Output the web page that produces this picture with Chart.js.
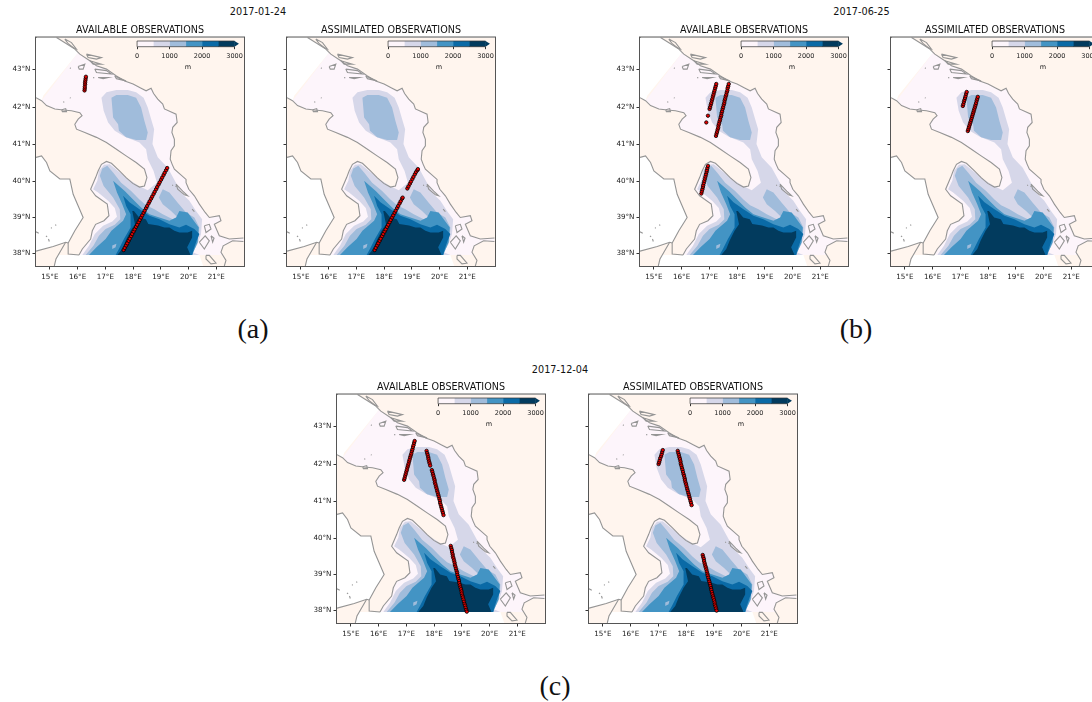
<!DOCTYPE html>
<html>
<head>
<meta charset="utf-8">
<title>Observations 2017</title>
<script src="https://cdn.jsdelivr.net/npm/chart.js@4"></script>
<style>
  html, body { margin: 0; padding: 0; background: #fff; overflow: hidden; width: 1092px; height: 702px; }
  canvas { position: absolute; }
  .txt { position: absolute; color: #111; white-space: nowrap; transform: translate(-50%, -50%); }
  .date { font: 9.7px "DejaVu Sans"; }
  .panel-label { font: 28px "Liberation Serif"; }
</style>
</head>
<body>
<script>
// ================= DADOS: EIXOS =================
const lonTicks = [15, 16, 17, 18, 19, 20, 21];
const latTicks = [38, 39, 40, 41, 42, 43];
const lonRange = [14.5, 22];
const latRange = [37.64, 43.82];
const depthLevels = [500, 500, 500, 500, 500, 500];
const depthTicks = [0, 1000, 2000, 3000];
const depthTip = 3135;
const depthColors = ["#fdf5fb", "#d6d7e9", "#a0bcdb", "#4394c4", "#0a6aa6", "#023b5e"];

// ================= DADOS: COSTA (lon, lat) =================
const coastNorthEast = [[15.24,43.82],[15.60,43.66],[15.90,43.52],[16.08,43.39],[16.44,43.22],[16.68,43.09],[17.04,43.00],[17.40,42.82],[17.70,42.69],[18.00,42.61],[18.29,42.50],[18.47,42.43],[18.65,42.50],[18.74,42.36],[18.89,42.21],[19.07,42.08],[19.13,41.95],[19.55,41.81],[19.59,41.59],[19.43,41.46],[19.40,41.32],[19.49,41.14],[19.49,40.96],[19.37,40.83],[19.34,40.60],[19.41,40.46],[19.49,40.33],[19.91,40.05],[19.91,39.96],[20.01,39.78],[20.21,39.60],[20.39,39.37],[20.60,39.14],[20.75,39.00],[21.11,39.05],[21.17,38.91],[20.93,38.81],[21.11,38.49],[21.47,38.40],[21.98,38.43]];
const coastPeloponnese = [[21.98,38.33],[21.59,38.35],[21.25,38.21],[21.17,38.03],[21.35,37.80],[21.29,37.64]];
const coastItaly = [[14.50,42.25],[14.70,42.17],[14.88,42.04],[15.18,41.95],[15.48,41.92],[15.78,41.90],[16.08,41.85],[16.16,41.77],[16.02,41.68],[15.90,41.54],[15.96,41.41],[16.26,41.32],[16.68,41.19],[17.04,41.05],[17.40,40.87],[17.75,40.69],[18.11,40.51],[18.41,40.33],[18.50,40.10],[18.41,39.87],[18.23,39.84],[17.99,39.94],[17.75,40.10],[17.51,40.28],[17.22,40.49],[17.04,40.54],[16.86,40.46],[16.74,40.28],[16.65,40.10],[16.47,39.78],[16.65,39.60],[17.07,39.37],[17.13,39.05],[16.95,38.91],[16.65,38.81],[16.53,38.63],[16.47,38.40],[16.17,38.12],[16.05,37.95]];
const coastToe = [[16.05,37.95],[15.66,37.98],[15.66,38.29]];
const coastTyrrhenian = [[15.66,38.29],[15.90,38.63],[16.20,39.00],[15.84,39.64],[15.72,40.06],[15.36,40.06],[15.00,40.28],[14.88,40.51],[14.70,40.69],[14.50,40.65]];
const coastSicily = [[14.50,38.06],[15.12,38.19],[15.57,38.31],[15.66,38.29]];
const coastSicilyEast = [[15.57,38.31],[15.22,37.84],[15.16,37.64]];

const islands = [
  [[15.54,43.78],[15.78,43.69],[15.96,43.52],[15.86,43.55],[15.66,43.66]],
  [[16.32,43.39],[16.86,43.30],[16.68,43.26],[16.38,43.30]],
  [[16.44,43.22],[16.86,43.13],[16.56,43.13]],
  [[16.02,43.07],[16.26,43.13],[16.20,43.00],[16.06,43.00]],
  [[16.62,43.00],[17.04,42.96],[17.22,42.87],[16.68,42.91]],
  [[16.74,42.78],[17.10,42.78],[16.92,42.75]],
  [[17.34,42.82],[17.75,42.69],[17.40,42.75]],
  [[15.72,43.03],[15.76,43.02]],
  [[16.56,42.78],[16.60,42.77]],
  [[15.48,42.14],[15.52,42.13]],
  [[15.72,42.25],[15.75,42.24]],
  [[15.43,41.93],[15.57,41.96],[15.60,41.88],[15.45,41.88]],
  [[19.55,39.92],[19.79,39.73],[19.97,39.60],[19.85,39.63],[19.61,39.78]],
  [[19.41,39.90],[19.44,39.88]],
  [[19.53,39.87],[19.56,39.85]],
  [[20.13,39.23],[20.21,39.16]],
  [[20.57,38.77],[20.75,38.81],[20.81,38.68],[20.63,38.58]],
  [[20.39,38.31],[20.60,38.49],[20.75,38.35],[20.57,38.12]],
  [[20.81,38.49],[20.87,38.31],[20.92,38.42]],
  [[20.63,37.94],[20.75,37.94],[20.99,37.72],[20.81,37.70],[20.63,37.84]],
  [[15.19,38.80],[15.23,38.78]],
  [[14.86,38.49],[14.90,38.46]],
  [[14.95,38.40],[14.98,38.33]],
  [[14.50,38.60],[14.60,38.56]],
  [[15.04,38.72],[15.07,38.70]]
];

// ================= DADOS: ÁREAS SEM MODELO =================
const whiteNorthWest = [[14.5,43.82],[15.24,43.82],[15.60,43.66],[15.90,43.52],[16.02,43.43],[14.76,42.30],[14.70,42.17],[14.5,42.25]];
const whiteSouth = [[15.30,37.95],[20.39,37.95],[20.53,37.64],[15.16,37.64]];
const seaLimitNorth = [[14.70,42.17],[16.02,43.43]];
const seaLimitSouth = [[21.25,37.95],[16.05,37.95]];

// ================= DADOS: BATIMETRIA (lon, lat) =================
const depth500 = [[16.86,42.25],[17.04,42.39],[17.40,42.45],[17.81,42.45],[18.11,42.39],[18.38,42.25],[18.53,41.99],[18.65,41.68],[18.76,41.41],[18.70,41.01],[18.89,40.65],[19.25,40.37],[19.61,39.87],[19.79,39.64],[20.03,39.46],[20.27,39.18],[20.49,38.95],[20.45,38.54],[20.33,38.26],[20.15,38.03],[20.39,37.95],[16.17,37.95],[16.41,38.21],[16.62,38.54],[16.92,38.77],[17.25,38.89],[17.42,39.02],[17.34,39.26],[17.10,39.46],[16.74,39.69],[16.56,39.78],[16.71,40.01],[16.77,40.28],[16.95,40.45],[17.16,40.46],[17.46,40.28],[17.85,40.05],[18.21,39.87],[18.53,39.75],[18.86,39.96],[18.74,40.28],[18.53,40.60],[18.47,40.87],[18.23,41.05],[17.70,41.21],[17.34,41.37],[17.10,41.59],[16.94,41.90]];
const depth1000North = [[17.22,42.25],[17.40,42.32],[17.81,42.32],[18.11,42.25],[18.29,41.99],[18.41,41.63],[18.53,41.32],[18.47,41.12],[18.11,41.12],[17.75,41.19],[17.49,41.37],[17.46,41.54],[17.28,41.72],[17.25,41.99]];
const depth1000South = [[16.29,37.95],[16.57,38.21],[16.77,38.49],[17.01,38.68],[17.34,38.80],[17.54,38.95],[17.52,39.23],[17.28,39.55],[16.94,39.87],[16.80,40.15],[16.89,40.35],[17.07,40.42],[17.28,40.24],[17.57,39.96],[17.93,39.73],[18.23,39.50],[18.47,39.34],[18.77,39.23],[19.07,39.09],[19.43,38.95],[19.61,39.00],[19.37,39.18],[19.07,39.37],[18.93,39.55],[19.07,39.78],[19.31,39.69],[19.61,39.41],[19.91,39.14],[20.21,39.00],[20.39,38.72],[20.37,38.49],[20.15,38.07],[20.15,37.95]];
const depth1500 = [[16.41,37.95],[16.68,38.17],[17.01,38.40],[17.22,38.63],[17.64,38.91],[17.75,39.09],[17.61,39.37],[17.42,39.69],[17.28,40.01],[17.70,39.73],[18.00,39.50],[18.29,39.28],[18.59,39.09],[18.95,39.00],[19.31,38.91],[19.55,39.00],[19.67,39.18],[19.97,39.14],[20.15,38.95],[20.37,38.72],[20.33,38.31],[20.13,37.95]];
const depth1000Spot = [[17.25,38.22],[17.40,38.27],[17.37,38.17],[17.25,38.12]];
const depth2000 = [[17.64,39.60],[17.87,39.42],[18.23,39.23],[18.59,39.05],[18.95,38.95],[19.31,38.81],[19.67,38.72],[19.91,38.80],[20.21,38.68],[20.39,38.54],[20.29,38.35],[20.19,38.12],[20.13,37.95],[17.37,37.95],[17.49,38.12],[17.67,38.40],[17.91,38.72],[17.91,39.09],[17.75,39.32]];
const depth2500 = [[17.97,39.18],[18.03,39.18],[18.22,39.00],[18.46,38.95],[18.55,38.82],[18.90,38.78],[19.13,38.72],[19.31,38.72],[19.49,38.63],[19.67,38.58],[19.97,38.58],[20.13,38.63],[20.13,38.44],[19.95,38.17],[20.07,37.95],[17.43,37.95],[17.61,38.12],[17.73,38.35],[17.91,38.63],[18.07,38.81]];

// ================= DADOS: OBSERVAÇÕES (lon, lat) =================
const availableJan = [[17.66,38.09],[17.70,38.15],[17.75,38.22],[17.79,38.28],[17.84,38.35],[17.88,38.41],[17.93,38.48],[17.97,38.54],[18.02,38.61],[18.06,38.67],[18.11,38.74],[18.15,38.80],[18.20,38.87],[18.24,38.93],[18.29,39.00],[18.33,39.06],[18.38,39.13],[18.42,39.19],[18.47,39.26],[18.51,39.32],[18.56,39.39],[18.60,39.45],[18.65,39.52],[18.69,39.58],[18.74,39.65],[18.78,39.71],[18.83,39.78],[18.87,39.84],[18.92,39.91],[18.96,39.97],[19.01,40.04],[19.05,40.10],[19.10,40.17],[19.14,40.23],[19.19,40.30],[19.23,40.36],
  [16.25,42.44],[16.26,42.49],[16.26,42.54],[16.27,42.60],[16.27,42.65],[16.28,42.70],[16.29,42.75],[16.30,42.80]];
const assimilatedJan = [[17.66,38.09],[17.70,38.15],[17.75,38.22],[17.79,38.28],[17.84,38.35],[17.88,38.41],[17.93,38.48],[17.97,38.54],[18.02,38.61],[18.06,38.67],[18.11,38.74],[18.15,38.80],[18.20,38.87],[18.24,38.93],[18.29,39.00],[18.33,39.06],[18.38,39.13],[18.42,39.19],[18.47,39.26],[18.51,39.32],[18.56,39.39],[18.60,39.45],[18.65,39.52],[18.67,39.55],
  [18.84,39.80],[18.88,39.86],[18.93,39.93],[18.97,39.99],[19.02,40.06],[19.06,40.12],[19.11,40.19],[19.15,40.25],[19.20,40.30],[19.22,40.33]];
const availableJun = [[17.01,41.95],[17.03,42.00],[17.05,42.06],[17.07,42.11],[17.09,42.17],[17.11,42.22],[17.13,42.28],[17.15,42.33],[17.17,42.39],[17.19,42.44],[17.21,42.50],[17.23,42.55],[17.25,42.61],
  [16.95,41.77],[16.89,41.59],
  [17.24,41.23],[17.26,41.29],[17.28,41.34],[17.30,41.40],[17.32,41.45],[17.33,41.51],[17.35,41.56],[17.37,41.62],[17.39,41.67],[17.41,41.73],[17.43,41.78],[17.44,41.84],[17.46,41.89],[17.48,41.95],[17.50,42.00],[17.52,42.06],[17.54,42.11],[17.55,42.17],[17.57,42.22],[17.59,42.28],[17.61,42.33],[17.63,42.39],[17.65,42.44],[17.66,42.50],[17.68,42.55],[17.70,42.61],
  [16.71,39.66],[16.73,39.72],[16.75,39.78],[16.77,39.84],[16.78,39.89],[16.80,39.95],[16.82,40.01],[16.84,40.07],[16.86,40.13],[16.88,40.19],[16.90,40.25],[16.91,40.30],[16.93,40.36],[16.95,40.42]];
const assimilatedJun = [[17.09,42.03],[17.11,42.08],[17.13,42.14],[17.15,42.19],[17.17,42.24],[17.19,42.29],[17.21,42.35],[17.23,42.40],
  [17.27,41.36],[17.29,41.41],[17.31,41.46],[17.33,41.51],[17.35,41.56],[17.37,41.61],[17.39,41.66],[17.41,41.71],[17.43,41.76],[17.45,41.81],[17.47,41.86],[17.49,41.91],[17.51,41.96],[17.53,42.01],[17.55,42.06],[17.57,42.11],[17.59,42.17],[17.61,42.22],[17.63,42.27]];
const availableDec = [[16.92,41.58],[16.94,41.63],[16.96,41.69],[16.98,41.74],[17.00,41.80],[17.02,41.85],[17.04,41.91],[17.06,41.96],[17.08,42.01],[17.10,42.07],[17.12,42.12],[17.14,42.18],[17.16,42.23],[17.18,42.28],[17.20,42.34],[17.22,42.39],[17.24,42.45],[17.26,42.50],[17.28,42.56],[17.30,42.61],
  [17.73,42.35],[17.75,42.29],[17.77,42.24],[17.79,42.18],[17.80,42.13],[17.82,42.07],[17.84,42.02],[17.86,41.96],
  [17.92,41.84],[17.94,41.79],[17.96,41.73],[17.98,41.68],[18.00,41.62],[18.02,41.57],[18.03,41.51],[18.05,41.46],[18.07,41.40],[18.09,41.35],[18.11,41.29],[18.13,41.24],[18.15,41.18],[18.17,41.13],[18.19,41.07],[18.21,41.02],[18.22,40.96],[18.24,40.91],[18.26,40.85],[18.28,40.80],[18.30,40.74],[18.32,40.69],[18.34,40.63],
  [18.60,39.79],[18.62,39.73],[18.64,39.68],[18.65,39.62],[18.67,39.56],[18.68,39.50],[18.70,39.45],[18.72,39.39],[18.74,39.33],[18.75,39.27],[18.77,39.22],[18.79,39.16],[18.81,39.10],[18.83,39.05],[18.84,38.99],[18.86,38.93],[18.88,38.87],[18.90,38.82],[18.91,38.76],[18.93,38.70],[18.95,38.64],[18.97,38.59],[18.99,38.53],[19.00,38.47],[19.02,38.41],[19.04,38.36],[19.06,38.30],[19.08,38.24],[19.10,38.18],[19.12,38.13],[19.14,38.07],[19.16,38.01],[19.18,37.96]];
const assimilatedDec = [[17.01,42.00],[17.03,42.05],[17.05,42.10],[17.07,42.16],[17.10,42.21],[17.12,42.26],[17.14,42.32],[17.16,42.37],
  [17.70,42.35],[17.72,42.29],[17.74,42.24],[17.76,42.18],[17.78,42.13],[17.80,42.07],[17.81,42.01],[17.83,41.96],[17.85,41.90],[17.87,41.85],[17.89,41.79],[17.91,41.73],[17.93,41.68],[17.95,41.62],[17.96,41.57],[17.98,41.51],[18.00,41.46],[18.02,41.40],[18.04,41.34],[18.06,41.29],[18.08,41.23],[18.10,41.18],[18.12,41.12],[18.14,41.07],[18.16,41.01],[18.18,40.96],[18.20,40.90],
  [18.60,39.54],[18.62,39.48],[18.64,39.43],[18.65,39.37],[18.67,39.31],[18.69,39.25],[18.71,39.20],[18.73,39.14],[18.75,39.08],[18.77,39.02],[18.78,38.97],[18.80,38.91],[18.82,38.85],[18.84,38.80],[18.86,38.74],[18.88,38.68],[18.90,38.62],[18.91,38.57],[18.93,38.51],[18.95,38.45],[18.97,38.39],[18.99,38.34],[19.01,38.28],[19.03,38.22],[19.04,38.16],[19.06,38.11],[19.08,38.05],[19.10,37.99]];

// ================= LAYOUT =================
const titleAvailable = "AVAILABLE OBSERVATIONS";
const titleAssimilated = "ASSIMILATED OBSERVATIONS";
const paineis = [
  { left: 36, top: 38, title: titleAvailable, obs: availableJan, yLabels: true },
  { left: 287, top: 38, title: titleAssimilated, obs: assimilatedJan, yLabels: false },
  { left: 640, top: 38, title: titleAvailable, obs: availableJun, yLabels: true },
  { left: 891, top: 38, title: titleAssimilated, obs: assimilatedJun, yLabels: false },
  { left: 337, top: 395, title: titleAvailable, obs: availableDec, yLabels: true },
  { left: 589, top: 395, title: titleAssimilated, obs: assimilatedDec, yLabels: false }
];
const textos = [
  { cls: "date", text: "2017-01-24", x: 258, y: 11 },
  { cls: "date", text: "2017-06-25", x: 861.5, y: 11 },
  { cls: "date", text: "2017-12-04", x: 560, y: 369 },
  { cls: "panel-label", text: "(a)", x: 253, y: 329 },
  { cls: "panel-label", text: "(b)", x: 856, y: 329 },
  { cls: "panel-label", text: "(c)", x: 555, y: 686 }
];

textos.forEach(t => {
  const d = document.createElement("div");
  d.className = "txt " + t.cls;
  d.textContent = t.text;
  d.style.left = t.x + "px";
  d.style.top = t.y + "px";
  document.body.appendChild(d);
});

// ================= FUNÇÕES =================
// projeção de Mercator, em graus, para o eixo y
function merc(lat) {
  const r = lat * Math.PI / 180;
  return Math.log(Math.tan(Math.PI / 4 + r / 2)) * 180 / Math.PI;
}

function toXY(list) {
  return list.map(p => ({ x: p[0], y: merc(p[1]) }));
}

function criarCanvas(left, top, w, h) {
  const c = document.createElement("canvas");
  c.width = w;
  c.height = h;
  c.style.left = left + "px";
  c.style.top = top + "px";
  c.style.width = w + "px";
  c.style.height = h + "px";
  document.body.appendChild(c);
  return c;
}

// preenche os polígonos usando os pontos já calculados pelas escalas
const mapaFundo = {
  id: "mapaFundo",
  beforeDatasetsDraw(chart) {
    const ctx = chart.ctx;
    const a = chart.chartArea;
    ctx.save();
    ctx.beginPath();
    ctx.rect(a.left, a.top, a.right - a.left, a.bottom - a.top);
    ctx.clip();
    ctx.fillStyle = "#fff5ee";
    ctx.fillRect(a.left, a.top, a.right - a.left, a.bottom - a.top);
    chart.data.datasets.forEach((ds, i) => {
      if (!ds.polygonColor) return;
      const pts = chart.getDatasetMeta(i).data;
      ctx.beginPath();
      pts.forEach((p, k) => {
        if (k === 0) ctx.moveTo(p.x, p.y);
        else ctx.lineTo(p.x, p.y);
      });
      ctx.closePath();
      ctx.fillStyle = ds.polygonColor;
      ctx.fill();
    });
    ctx.restore();
  }
};

const moldura = {
  id: "moldura",
  afterDatasetsDraw(chart) {
    const a = chart.chartArea;
    const ctx = chart.ctx;
    ctx.save();
    ctx.strokeStyle = "#555";
    ctx.lineWidth = 1;
    ctx.strokeRect(a.left - 0.5, a.top - 0.5, a.right - a.left + 1, a.bottom - a.top + 1);
    ctx.restore();
  }
};

// seta da barra de cores (extend="max")
const setaBarra = {
  id: "setaBarra",
  afterDatasetsDraw(chart) {
    const x = chart.scales.x;
    const a = chart.chartArea;
    const ctx = chart.ctx;
    const x0 = x.getPixelForValue(0);
    const x1 = x.getPixelForValue(depthTicks[depthTicks.length - 1]);
    const tip = x.getPixelForValue(depthTip);
    ctx.save();
    ctx.beginPath();
    ctx.moveTo(x1, a.top);
    ctx.lineTo(tip, (a.top + a.bottom) / 2);
    ctx.lineTo(x1, a.bottom);
    ctx.closePath();
    ctx.fillStyle = depthColors[5];
    ctx.fill();
    ctx.beginPath();
    ctx.moveTo(x1, a.top);
    ctx.lineTo(x0, a.top);
    ctx.lineTo(x0, a.bottom);
    ctx.lineTo(x1, a.bottom);
    ctx.strokeStyle = "#333";
    ctx.lineWidth = 0.7;
    ctx.stroke();
    ctx.restore();
  }
};

function poligono(list, color) {
  return { data: toXY(list), polygonColor: color, showLine: false, pointRadius: 0 };
}

function linhaCosta(list) {
  return { data: toXY(list), showLine: true, fill: false, pointRadius: 0, borderColor: "#959595", borderWidth: 1.1 };
}

// ================= MAPAS =================
const seaOutline = [seaLimitNorth[0], seaLimitNorth[1]]
  .concat(coastNorthEast.slice(3), coastPeloponnese.slice(0, 4), seaLimitSouth, coastItaly.slice(1, -1).reverse());
const whiteTyrrhenian = coastTyrrhenian.concat(coastSicily);

function datasetsMapa(obs) {
  const ds = [
    poligono(whiteNorthWest, "#ffffff"),
    poligono(whiteTyrrhenian, "#ffffff"),
    poligono(whiteSouth, "#ffffff"),
    poligono(seaOutline, depthColors[0]),
    poligono(depth500, depthColors[1]),
    poligono(depth1000North, depthColors[2]),
    poligono(depth1000South, depthColors[2]),
    poligono(depth1500, depthColors[3]),
    poligono(depth1000Spot, depthColors[2]),
    poligono(depth2000, depthColors[4]),
    poligono(depth2500, depthColors[5])
  ];
  [coastNorthEast, coastPeloponnese, coastItaly, coastToe, coastTyrrhenian, coastSicily, coastSicilyEast].forEach(c => ds.push(linhaCosta(c)));
  islands.forEach(r => ds.push(linhaCosta(r.concat([r[0]]))));
  ds.push({
    data: toXY(obs),
    showLine: false,
    pointRadius: 1.7,
    pointBorderWidth: 0.8,
    pointBackgroundColor: "#e60000",
    pointBorderColor: "#000"
  });
  return ds;
}

paineis.forEach(p => {
  const canvas = criarCanvas(p.left - 36, p.top - 22, 256, 268);
  new Chart(canvas, {
    type: "scatter",
    data: { datasets: datasetsMapa(p.obs) },
    options: {
      responsive: false,
      animation: false,
      devicePixelRatio: 1,
      layout: { padding: { right: 12 } },
      plugins: {
        legend: { display: false },
        tooltip: { enabled: false },
        title: {
          display: true,
          text: p.title,
          fullSize: false,
          color: "#111",
          font: { family: "DejaVu Sans", size: 9.6, weight: "normal" },
          padding: { top: 9, bottom: 1 }
        }
      },
      scales: {
        x: {
          type: "linear",
          min: lonRange[0],
          max: lonRange[1],
          afterBuildTicks(s) { s.ticks = lonTicks.map(v => ({ value: v })); },
          afterFit(s) { s.height = 18; },
          border: { color: "#555" },
          grid: { drawOnChartArea: false, tickLength: 3.5, tickColor: "#333" },
          ticks: {
            autoSkip: false,
            maxRotation: 0,
            padding: 3,
            color: "#222",
            font: { family: "DejaVu Sans", size: 7.2 },
            callback: v => v + "°E"
          }
        },
        y: {
          type: "linear",
          min: merc(latRange[0]),
          max: merc(latRange[1]),
          afterBuildTicks(s) { s.ticks = latTicks.map(v => ({ value: merc(v) })); },
          afterFit(s) { s.width = 36; },
          border: { color: "#555" },
          grid: { drawOnChartArea: false, tickLength: 3.5, tickColor: "#333" },
          ticks: {
            autoSkip: false,
            padding: 2,
            color: "#222",
            font: { family: "DejaVu Sans", size: 7.2 },
            callback: (v, i) => (p.yLabels ? latTicks[i] + "°N" : "")
          }
        }
      }
    },
    plugins: [mapaFundo, moldura]
  });

  // ================= BARRA DE CORES =================
  const cb = criarCanvas(p.left + 96, p.top, 114, 33);
  new Chart(cb, {
    type: "bar",
    data: {
      labels: ["m"],
      datasets: depthLevels.map((v, i) => ({
        data: [v],
        backgroundColor: depthColors[i],
        barPercentage: 1,
        categoryPercentage: 1,
        borderWidth: 0
      }))
    },
    options: {
      indexAxis: "y",
      responsive: false,
      animation: false,
      devicePixelRatio: 1,
      layout: { padding: { left: 4, right: 5.4, top: 3 } },
      plugins: { legend: { display: false }, tooltip: { enabled: false } },
      scales: {
        x: {
          type: "linear",
          stacked: true,
          min: 0,
          max: depthTip,
          afterBuildTicks(s) { s.ticks = depthTicks.map(v => ({ value: v })); },
          afterFit(s) { s.height = 24.3; },
          border: { display: false },
          grid: { drawOnChartArea: false, tickLength: 2.5, tickColor: "#333" },
          title: {
            display: true,
            text: "m",
            color: "#222",
            padding: 0,
            font: { family: "DejaVu Sans", size: 6.5 }
          },
          ticks: {
            autoSkip: false,
            maxRotation: 0,
            padding: 3,
            color: "#222",
            font: { family: "DejaVu Sans", size: 6.5 },
            callback: v => String(v)
          }
        },
        y: { stacked: true, display: false }
      }
    },
    plugins: [setaBarra]
  });
});
</script>
</body>
</html>
